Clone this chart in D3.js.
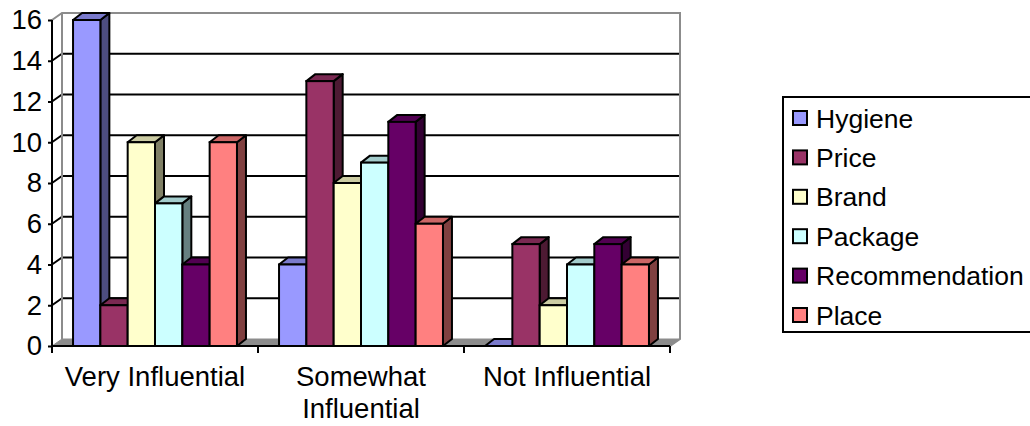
<!DOCTYPE html>
<html>
<head>
<meta charset="utf-8">
<script src="https://cdn.jsdelivr.net/npm/d3@7"></script>
<style>
  html, body { margin: 0; padding: 0; background: #fff; }
  svg { display: block; font-family: "Liberation Sans", Arial, sans-serif; }
</style>
</head>
<body>
<svg id="chart" width="1030" height="426"></svg>
<script>
// Survey answers: how much each factor influences the choice
const categories = ["Very Influential", "Somewhat Influential", "Not Influential"];
const series = ["Hygiene", "Price", "Brand", "Package", "Recommendation", "Place"];
const hygiene        = [16, 4, 0];
const price          = [2, 13, 5];
const brand          = [10, 8, 2];
const pkg            = [7, 9, 4];
const recommendation = [4, 11, 5];
const place          = [10, 6, 4];
const yTicks = [0, 2, 4, 6, 8, 10, 12, 14, 16];

const seriesValues = [hygiene, price, brand, pkg, recommendation, place];
const fills = ["#9999FF", "#993366", "#FFFFCC", "#CCFFFF", "#660066", "#FF8080"];

const svg = d3.select("#chart");

// Plot frame (front plane) and 3D depth offsets
const plotLeft = 52, plotRight = 670, plotBottom = 346, plotTop = 20;
const wallDx = 10, wallDy = 7;   // depth of the back wall
const barDx = 9, barDy = 7;      // depth of each column
const axisFont = 27.5, legendFont = 26.5;

const x0 = d3.scaleBand().domain(categories).range([plotLeft, plotRight]).paddingInner(0).paddingOuter(0);
const x1 = d3.scaleBand().domain(series).range([0, x0.bandwidth()]).paddingInner(0).paddingOuter(0.77);
const y = d3.scaleLinear().domain([0, 16]).range([plotBottom, plotTop]);

const grey = "#8c8c8c";

// Floor
svg.append("path")
  .attr("d", `M${plotLeft},${plotBottom} L${plotLeft + wallDx},${plotBottom - wallDy} L${plotRight + wallDx},${plotBottom - wallDy} L${plotRight},${plotBottom} Z`)
  .attr("fill", grey).attr("stroke", grey).attr("stroke-width", 1);

// Gridlines on back wall + slanted part across the side wall
yTicks.filter(t => t > 0 && t < 16).forEach(t => {
  const yf = y(t), yb = y(t) - wallDy;
  svg.append("path")
    .attr("d", `M${plotLeft},${yf} L${plotLeft + wallDx},${yb} L${plotRight + wallDx},${yb}`)
    .attr("fill", "none").attr("stroke", "#000").attr("stroke-width", 2);
});

// Back wall border
svg.append("path")
  .attr("d", `M${plotLeft},${y(16)} L${plotLeft + wallDx},${y(16) - wallDy} L${plotRight + wallDx},${y(16) - wallDy} L${plotRight + wallDx},${plotBottom - wallDy} L${plotRight},${plotBottom}`)
  .attr("fill", "none").attr("stroke", grey).attr("stroke-width", 2);
svg.append("line")
  .attr("x1", plotLeft + wallDx).attr("x2", plotLeft + wallDx)
  .attr("y1", y(16) - wallDy).attr("y2", plotBottom - wallDy)
  .attr("stroke", grey).attr("stroke-width", 2);

// Columns, painted left to right so nearer faces cover the ones behind
const shade = (c, k) => { const r = d3.rgb(c); return d3.rgb(r.r * k, r.g * k, r.b * k).formatHex(); };
const bars = [];
categories.forEach((cat, ci) => {
  series.forEach((s, si) => {
    bars.push({ cat, s, v: seriesValues[si][ci], fill: fills[si] });
  });
});

const g = svg.append("g");
bars.forEach(d => {
  const xa = x0(d.cat) + x1(d.s);
  const xb = xa + x1.bandwidth();
  const yv = y(d.v);
  const bg = g.append("g");
  // side face
  bg.append("path")
    .attr("d", `M${xb},${yv} L${xb + barDx},${yv - barDy} L${xb + barDx},${plotBottom - barDy} L${xb},${plotBottom} Z`)
    .attr("fill", shade(d.fill, 0.5)).attr("stroke", "#000").attr("stroke-width", 2).attr("stroke-linejoin", "round");
  // top face
  bg.append("path")
    .attr("d", `M${xa},${yv} L${xa + barDx},${yv - barDy} L${xb + barDx},${yv - barDy} L${xb},${yv} Z`)
    .attr("fill", shade(d.fill, 0.8)).attr("stroke", "#000").attr("stroke-width", 2).attr("stroke-linejoin", "round");
  // front face
  if (d.v > 0) {
    bg.append("rect")
      .attr("x", xa).attr("y", yv).attr("width", xb - xa).attr("height", plotBottom - yv)
      .attr("fill", d.fill).attr("stroke", "#000").attr("stroke-width", 2);
  }
});

// Value axis (front left edge)
const yAxis = svg.append("g").attr("transform", `translate(${plotLeft},0)`)
  .call(d3.axisLeft(y).tickValues(yTicks).tickSize(4).tickPadding(6).tickFormat(d3.format("d")));
yAxis.select(".domain").attr("stroke", "#000").attr("stroke-width", 2).attr("d", `M0,${y(16)}V${plotBottom}`);
yAxis.selectAll(".tick line").attr("stroke", "#000").attr("stroke-width", 2);
yAxis.selectAll(".tick text").attr("font-size", axisFont).attr("fill", "#000")
  .attr("font-family", "'Liberation Sans', Arial, sans-serif");

// Category axis (front bottom edge)
const xAxis = svg.append("g").attr("transform", `translate(0,${plotBottom})`);
xAxis.append("line").attr("x1", plotLeft).attr("x2", plotRight).attr("stroke", "#000").attr("stroke-width", 2);
const boundaries = categories.map(c => x0(c)).concat([x0(categories[categories.length - 1]) + x0.bandwidth()]);
xAxis.selectAll("line.tk").data(boundaries).enter().append("line")
  .attr("class", "tk").attr("x1", d => d).attr("x2", d => d).attr("y1", 0).attr("y2", 7)
  .attr("stroke", "#000").attr("stroke-width", 2);

const labelLines = { "Very Influential": ["Very Influential"],
                     "Somewhat Influential": ["Somewhat", "Influential"],
                     "Not Influential": ["Not Influential"] };
categories.forEach(c => {
  const t = svg.append("text")
    .attr("x", x0(c) + x0.bandwidth() / 2).attr("y", 386)
    .attr("text-anchor", "middle").attr("font-size", axisFont).attr("fill", "#000");
  labelLines[c].forEach((line, i) => {
    t.append("tspan").attr("x", x0(c) + x0.bandwidth() / 2).attr("dy", i === 0 ? 0 : 32).text(line);
  });
});

// Legend
const legend = svg.append("g");
legend.append("rect").attr("x", 783).attr("y", 97).attr("width", 260).attr("height", 235)
  .attr("fill", "#fff").attr("stroke", "#000").attr("stroke-width", 2);
series.forEach((s, i) => {
  const cy = 118 + i * 39.4;
  legend.append("rect").attr("x", 793).attr("y", cy - 7).attr("width", 14).attr("height", 14)
    .attr("fill", fills[i]).attr("stroke", "#000").attr("stroke-width", 2);
  legend.append("text").attr("x", 816).attr("y", cy + 9.5).attr("font-size", legendFont).attr("fill", "#000").text(s);
});
</script>
</body>
</html>
